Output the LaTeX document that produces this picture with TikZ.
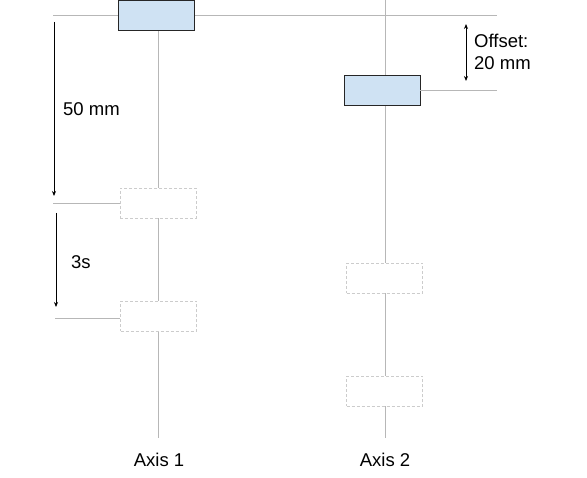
\documentclass[tikz,border=0pt]{standalone}
\usepackage{fontspec}
\setmainfont{Liberation Sans}
\usetikzlibrary{arrows.meta}
\definecolor{boxfill}{HTML}{CFE2F3}
\definecolor{axisgray}{HTML}{B7B7B7}
\definecolor{dashgray}{HTML}{CCCCCC}
\begin{document}
\begin{tikzpicture}[x=1pt,y=-1pt,
  solidbox/.style={draw=black!85,fill=boxfill,line width=0.8pt,minimum width=76pt,minimum height=30pt,inner sep=0pt},
  ghostbox/.style={draw=dashgray,fill=white,dashed,dash pattern=on 3pt off 2pt,line width=0.8pt,minimum width=76pt,minimum height=30pt,inner sep=0pt},
  guide/.style={draw=axisgray,line width=0.8pt},
  dimarrow/.style={draw=black,line width=0.8pt,-{Stealth[length=5pt,width=4pt]}},
  dimboth/.style={draw=black,line width=0.8pt,{Stealth[length=5pt,width=4pt]}-{Stealth[length=5pt,width=4pt]}},
  lbl/.style={font=\fontsize{18.5}{21.5}\selectfont,inner sep=0pt,align=left}
]
\useasboundingbox (0,0) rectangle (587,478);
% axis and guide coordinates
\coordinate (a1bot) at (158,438);
\coordinate (a2top) at (385,0);
\coordinate (a2bot) at (385,438);
\coordinate (h1l) at (53,15);
\coordinate (h1r) at (497,15);
\coordinate (h2r) at (497,90);
\coordinate (h3l) at (53,203);
\coordinate (h4l) at (55,318);
% guide lines behind
\draw[guide] (h1l) -- (h1r);
\draw[guide] (a2top) -- (a2bot);
\draw[guide] (158,30) -- (a1bot);
\node[solidbox] (b1) at (156,15) {};
\node[ghostbox] (b2) at (158,203) {};
\node[ghostbox] (b3) at (158.5,316.5) {};
\node[solidbox] (c1) at (382,90) {};
\node[ghostbox] (c2) at (384.5,278) {};
\node[ghostbox] (c3) at (384.5,391.5) {};
\draw[guide] (c1.east) -- (h2r);
\draw[guide] (h3l) -- (b2.west);
\draw[guide] (h4l) -- (b3.west |- h4l);
% dimension arrows
\coordinate (d1s) at (54,22);
\coordinate (d1e) at (54,196);
\coordinate (d2s) at (56,213);
\coordinate (d2e) at (56,307);
\coordinate (d3s) at (466,24);
\coordinate (d3e) at (466,81);
\draw[dimarrow] (d1s) -- (d1e);
\draw[dimarrow] (d2s) -- (d2e);
\draw[dimboth] (d3s) -- (d3e);
% labels
\node[lbl,anchor=west] (t50) at (63,109) {50 mm};
\node[lbl,anchor=west] (t3s) at (71,262) {3s};
\node[lbl,anchor=north west] (toff) at (474,34) {Offset:\\20 mm};
\node[lbl] (ax1) at (159,460) {Axis 1};
\node[lbl] (ax2) at (385,460) {Axis 2};
\end{tikzpicture}
\end{document}
